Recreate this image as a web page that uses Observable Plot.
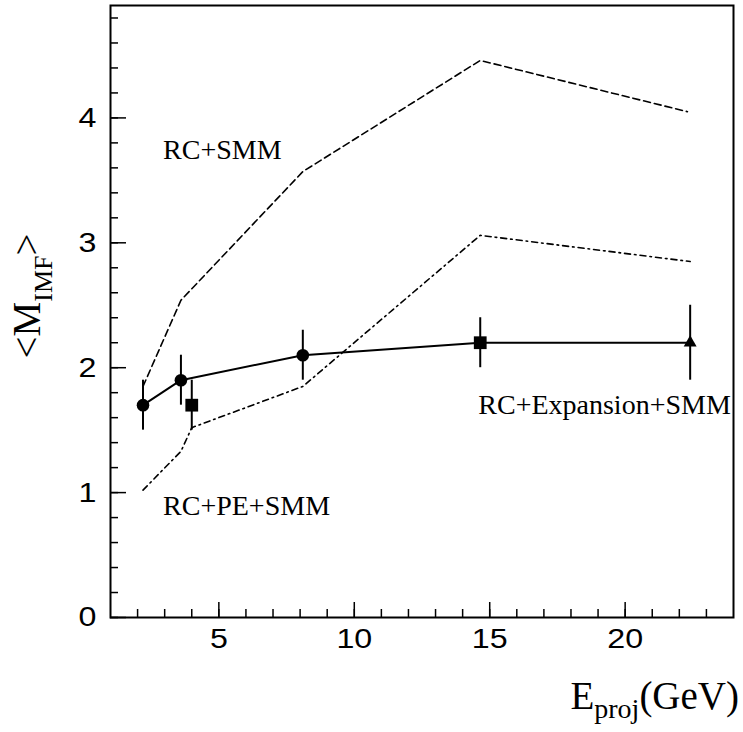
<!DOCTYPE html>
<html>
<head>
<meta charset="utf-8">
<script src="https://cdn.jsdelivr.net/npm/d3@7"></script>
<script src="https://cdn.jsdelivr.net/npm/@observablehq/plot@0.6"></script>
<style>
  html, body { margin: 0; padding: 0; background: white; }
</style>
</head>
<body>
<div id="chart"></div>
<script>
// Measured points (solid line, with error bars)
const dataEnergy = [2.2, 3.6, 8.1, 14.65, 22.4];
const dataMimf = [1.7, 1.9, 2.1, 2.2, 2.2];
const dataErr = [0.2, 0.2, 0.2, 0.2, 0.3];
const dataSymbol = ["circle", "circle", "circle", "square", "triangle"];

// Isolated point (square, not connected)
const extraEnergy = [4.0];
const extraMimf = [1.7];
const extraErr = [0.2];

// RC+SMM (dashed)
const smmEnergy = [2.2, 3.6, 8.1, 14.65, 22.3];
const smmMimf = [1.85, 2.54, 3.57, 4.46, 4.05];

// RC+PE+SMM (dash-dot)
const peEnergy = [2.2, 3.6, 4.0, 8.1, 14.65, 22.4];
const peMimf = [1.02, 1.33, 1.52, 1.85, 3.06, 2.85];

// Axis ticks
const xMajor = [5, 10, 15, 20];
const xMinor = d3.range(2, 24, 1);
const yMajor = [0, 1, 2, 3, 4];
const yMinor = d3.range(0, 4.81, 0.2);

// Curve labels
const labelText = ["RC+SMM", "RC+PE+SMM", "RC+Expansion+SMM"];
const labelX = [2.94, 2.94, 23.9];
const labelY = [3.67, 0.82, 1.63];
const labelAnchor = ["start", "start", "end"];

const mainPts = dataEnergy.map((e, i) => ({e, m: dataMimf[i], err: dataErr[i], s: dataSymbol[i]}));
const extraPts = extraEnergy.map((e, i) => ({e, m: extraMimf[i], err: extraErr[i], s: "square"}));
const allPts = mainPts.concat(extraPts);
const smm = smmEnergy.map((e, i) => ({e, m: smmMimf[i]}));
const pe = peEnergy.map((e, i) => ({e, m: peMimf[i]}));
const labels = labelText.map((t, i) => ({t, x: labelX[i], y: labelY[i], a: labelAnchor[i]}));

const serif = "'Liberation Serif', 'Times New Roman', serif";
const sans = "'Liberation Sans', Arial, sans-serif";

const chart = Plot.plot({
  width: 743,
  height: 732,
  marginLeft: 110,
  marginRight: 10,
  marginTop: 5,
  marginBottom: 115,
  x: {domain: [1, 24]},
  y: {domain: [0, 4.9]},
  style: {fontFamily: sans, fontSize: "28px", color: "black", background: "white"},
  marks: [
    Plot.axisX({ticks: xMinor, tickSize: -8, tickFormat: () => "", label: null, strokeWidth: 1.5}),
    Plot.axisX({ticks: xMajor, tickSize: -15, tickPadding: 26, tickFormat: d3.format("d"), fontSize: 28, label: null, strokeWidth: 1.5}),
    Plot.axisY({ticks: yMinor, tickSize: -8, tickFormat: () => "", label: null, strokeWidth: 1.5}),
    Plot.axisY({ticks: yMajor, tickSize: -16, tickPadding: 30, tickFormat: d3.format("d"), fontSize: 28, label: null, strokeWidth: 1.5}),
    Plot.frame({strokeWidth: 2}),
    Plot.line(smm, {x: "e", y: "m", stroke: "black", strokeWidth: 1.6, strokeDasharray: "7,4"}),
    Plot.line(pe, {x: "e", y: "m", stroke: "black", strokeWidth: 1.6, strokeDasharray: "6,4,1.6,4"}),
    Plot.line(mainPts, {x: "e", y: "m", stroke: "black", strokeWidth: 2}),
    Plot.ruleX(allPts, {x: "e", y1: d => d.m - d.err, y2: d => d.m + d.err, stroke: "black", strokeWidth: 2}),
    Plot.dot(allPts.filter(d => d.s === "circle"), {x: "e", y: "m", r: 6.3, fill: "black", stroke: "none"}),
    Plot.dot(allPts.filter(d => d.s === "square"), {x: "e", y: "m", r: 7.2, symbol: "square", fill: "black", stroke: "none"}),
    Plot.dot(allPts.filter(d => d.s === "triangle"), {x: "e", y: "m", r: 4.8, symbol: "triangle", fill: "black", stroke: "none"}),
    Plot.text(labels.filter(d => d.a === "start"), {x: "x", y: "y", text: "t", textAnchor: "start", lineAnchor: "bottom", fontFamily: serif, fontSize: 28, fill: "black"}),
    Plot.text(labels.filter(d => d.a === "end"), {x: "x", y: "y", text: "t", textAnchor: "end", lineAnchor: "bottom", fontFamily: serif, fontSize: 28, fill: "black"})
  ]
});

document.getElementById("chart").appendChild(chart);

const svg = d3.select(chart);

// Reference tick digits are wider than Liberation Sans: stretch glyphs slightly
svg.selectAll("g").filter(function () {
  const a = this.getAttribute("aria-label") || "";
  return a.includes("tick label");
}).selectAll("text").each(function () {
  if (!this.textContent) return;
  let w = 0;
  try { w = this.getComputedTextLength(); } catch (e) { w = 0; }
  if (w > 0) {
    this.setAttribute("textLength", (w * 1.15).toFixed(2));
    this.setAttribute("lengthAdjust", "spacingAndGlyphs");
  }
});

// X axis title with subscript
const xt = svg.append("text")
  .attr("x", 739).attr("y", 709)
  .attr("text-anchor", "end")
  .attr("font-family", serif)
  .attr("font-size", 39)
  .attr("fill", "black");
xt.append("tspan").text("E");
xt.append("tspan").attr("font-size", 28).attr("dy", 9).text("proj");
xt.append("tspan").attr("dy", -9).text("(GeV)");

// Y axis title with subscript
const yt = svg.append("text")
  .attr("transform", "translate(40,296) rotate(-90)")
  .attr("text-anchor", "middle")
  .attr("font-family", serif)
  .attr("font-size", 39)
  .attr("fill", "black");
yt.append("tspan").text("<M");
yt.append("tspan").attr("font-size", 26).attr("dy", 12).text("IMF");
yt.append("tspan").attr("dy", -12).text(">");
</script>
</body>
</html>
